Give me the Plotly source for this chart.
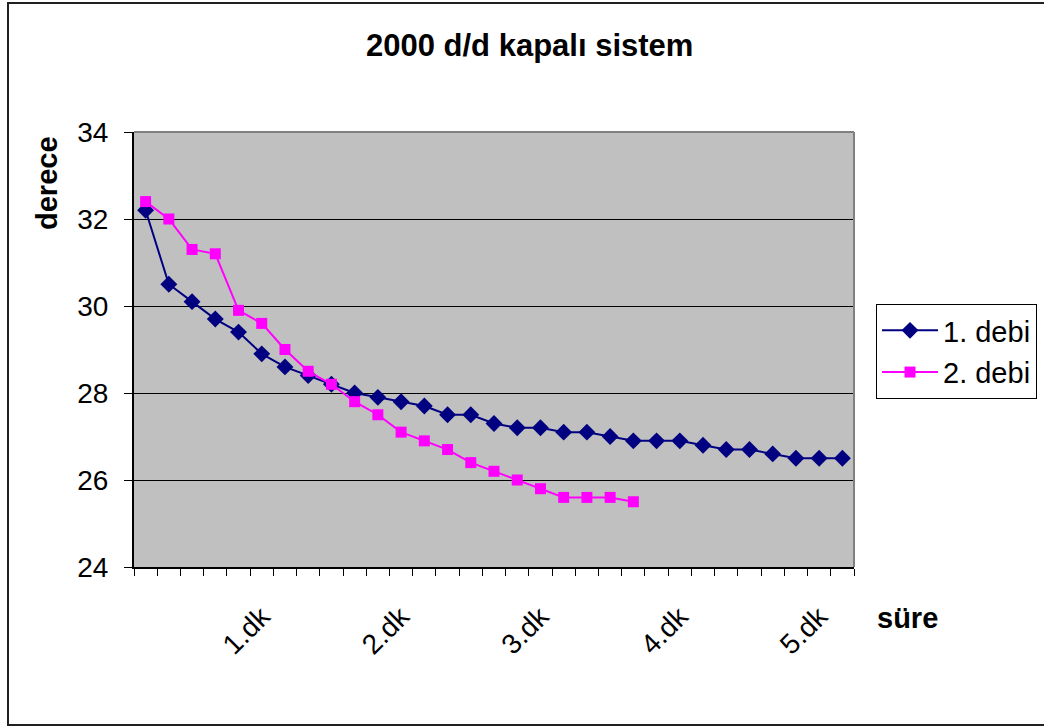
import plotly.graph_objects as go

# zaman adımları (saniye) ve eksen etiketleri
sure_sn = [10, 20, 30, 40, 50, 60, 70, 80, 90, 100, 110, 120, 130, 140, 150, 160,
           170, 180, 190, 200, 210, 220, 230, 240, 250, 260, 270, 280, 290, 300, 310]
sure_etiket = ["", "", "", "", "", "1.dk", "", "", "", "", "", "2.dk", "", "", "", "",
               "", "3.dk", "", "", "", "", "", "4.dk", "", "", "", "", "", "5.dk", ""]

# sıcaklık ölçümleri (derece)
debi_1 = [32.2, 30.5, 30.1, 29.7, 29.4, 28.9, 28.6, 28.4, 28.2, 28.0, 27.9, 27.8, 27.7,
          27.5, 27.5, 27.3, 27.2, 27.2, 27.1, 27.1, 27.0, 26.9, 26.9, 26.9, 26.8, 26.7,
          26.7, 26.6, 26.5, 26.5, 26.5]
debi_2 = [32.4, 32.0, 31.3, 31.2, 29.9, 29.6, 29.0, 28.5, 28.2, 27.8, 27.5, 27.1, 26.9,
          26.7, 26.4, 26.2, 26.0, 25.8, 25.6, 25.6, 25.6, 25.5]

FONT = "Liberation Sans, Arial, sans-serif"
W, H = 1044, 727
L, R, T, B = 134, 190, 132, 160
PW, PH = W - L - R, H - T - B


def px_x(px):
    return (px - L) / PW


def px_y(py):
    return (H - B - py) / PH


fig = go.Figure()
fig.add_trace(go.Scatter(
    x=sure_sn, y=debi_1, name="1. debi", mode="lines+markers",
    line=dict(color="#000080", width=2),
    marker=dict(symbol="diamond", size=13, color="#000080"),
    legendgroup="a",
))
fig.add_trace(go.Scatter(
    x=sure_sn[:len(debi_2)], y=debi_2, name="2. debi", mode="lines+markers",
    line=dict(color="#FF00FF", width=2),
    marker=dict(symbol="square", size=11, color="#FF00FF"),
    legendgroup="b",
))

fig.update_layout(
    width=W, height=H,
    margin=dict(l=L, r=R, t=T, b=B, autoexpand=False),
    paper_bgcolor="white",
    plot_bgcolor="#C0C0C0",
    font=dict(family=FONT, size=28, color="black"),
    showlegend=True,
    legend=dict(
        x=px_x(876), y=px_y(304), xanchor="left", yanchor="top",
        bordercolor="black", borderwidth=1, bgcolor="white",
        font=dict(family=FONT, size=29),
        tracegroupgap=1, itemwidth=56,
    ),
    xaxis=dict(
        type="category",
        range=[-0.5, len(sure_sn) - 0.5],
        tickmode="array", tickvals=sure_sn, ticktext=sure_etiket,
        tickson="boundaries", ticks="outside", ticklen=7, tickcolor="black",
        tickangle=-45, ticklabelstandoff=20,
        showline=True, linecolor="black", linewidth=2,
        showgrid=False, zeroline=False, automargin=False,
        tickfont=dict(family=FONT, size=28),
    ),
    yaxis=dict(
        range=[24, 34], tickvals=[24, 26, 28, 30, 32, 34],
        ticks="outside", ticklen=8, tickcolor="black",
        ticklabelstandoff=10,
        showline=True, linecolor="black", linewidth=2,
        showgrid=True, gridcolor="black", gridwidth=1,
        zeroline=False, automargin=False,
        tickfont=dict(family=FONT, size=28),
    ),
    shapes=[
        # çizim alanının üst ve sağ kenarı
        dict(type="line", xref="paper", yref="paper", x0=0, x1=1, y0=1, y1=1,
             line=dict(color="#808080", width=2), layer="above"),
        dict(type="line", xref="paper", yref="paper", x0=1, x1=1, y0=0, y1=1,
             line=dict(color="#808080", width=2), layer="above"),
        # grafik çerçevesi
        dict(type="rect", xref="paper", yref="paper",
             x0=px_x(8), x1=px_x(1052), y0=px_y(725), y1=px_y(3),
             line=dict(color="#202020", width=2), fillcolor="rgba(0,0,0,0)"),
    ],
    annotations=[
        dict(text="<b>2000 d/d kapalı sistem</b>", xref="paper", yref="paper",
             x=px_x(529), y=px_y(45), xanchor="center", yanchor="middle",
             showarrow=False, font=dict(family=FONT, size=31)),
        dict(text="<b>derece</b>", xref="paper", yref="paper",
             x=px_x(47), y=px_y(183), xanchor="center", yanchor="middle",
             textangle=-90, showarrow=False, font=dict(family=FONT, size=29)),
        dict(text="<b>süre</b>", xref="paper", yref="paper",
             x=px_x(907), y=px_y(618), xanchor="center", yanchor="middle",
             showarrow=False, font=dict(family=FONT, size=29)),
    ],
)

fig.write_html("out.html")
